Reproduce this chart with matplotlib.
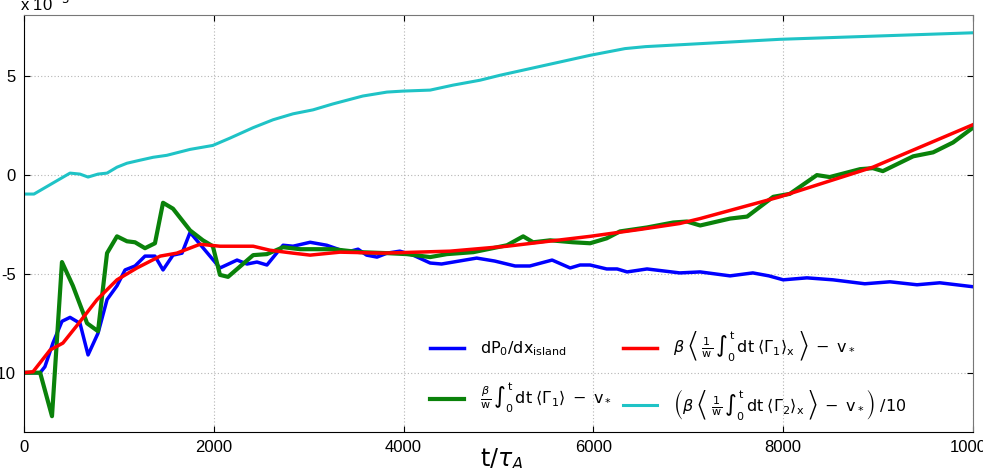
import numpy as np
import matplotlib
matplotlib.use("Agg")
import matplotlib.pyplot as plt

# === Dados (unidades de 1e-3) ===

# dP0/dx island (azul)
blue_t = [0, 170, 220, 305, 400, 485, 590, 675, 780, 875, 980, 1065, 1170, 1275, 1380,
          1465, 1570, 1665, 1750, 1855, 1960, 2065, 2245, 2350, 2455, 2560, 2730, 2835,
          3015, 3190, 3400, 3520, 3610, 3720, 3825, 3960, 4100, 4280, 4400, 4770, 4960,
          5175, 5330, 5565, 5755, 5860, 5965, 6140, 6250, 6355, 6565, 6910, 7125, 7440,
          7680, 7850, 8000, 8250, 8525, 8860, 9125, 9410, 9650, 10000]
blue_y = [-10, -10, -9.7, -8.5, -7.4, -7.2, -7.5, -9.1, -8.0, -6.3, -5.6, -4.8, -4.6, -4.1,
          -4.1, -4.8, -4.05, -3.95, -2.9, -3.5, -4.1, -4.7, -4.3, -4.5, -4.4, -4.55, -3.55,
          -3.6, -3.4, -3.55, -3.9, -3.75, -4.05, -4.15, -3.95, -3.85, -4.05, -4.45, -4.5,
          -4.2, -4.35, -4.6, -4.6, -4.3, -4.7, -4.55, -4.55, -4.75, -4.75, -4.9, -4.75,
          -4.95, -4.9, -5.1, -4.95, -5.1, -5.3, -5.2, -5.3, -5.5, -5.4, -5.55, -5.45, -5.65]

# beta/w int dt <Gamma1> - v* (verde)
green_t = [0, 170, 295, 400, 515, 665, 780, 875, 980, 1085, 1170, 1275, 1380, 1465, 1570,
           1750, 1885, 1990, 2065, 2150, 2415, 2560, 2730, 2910, 3255, 3540, 3825, 4035,
           4280, 4455, 4735, 5090, 5260, 5365, 5545, 5785, 5965, 6140, 6280, 6565, 6840,
           6985, 7125, 7440, 7620, 7895, 8070, 8355, 8490, 8810, 8945, 9050, 9370, 9580,
           9790, 10000]
green_y = [-10, -10, -12.2, -4.4, -5.6, -7.5, -7.9, -3.95, -3.1, -3.35, -3.4, -3.7, -3.45,
           -1.4, -1.7, -2.8, -3.3, -3.6, -5.05, -5.15, -4.05, -4.0, -3.65, -3.75, -3.75,
           -3.9, -3.95, -4.0, -4.15, -4.0, -3.9, -3.55, -3.1, -3.4, -3.3, -3.4, -3.45,
           -3.2, -2.85, -2.65, -2.4, -2.35, -2.55, -2.2, -2.1, -1.1, -0.95, 0, -0.1, 0.3,
           0.35, 0.2, 0.95, 1.15, 1.65, 2.4]

# beta <1/w int dt <Gamma1>_x> - v* (vermelho)
red_t = [0, 95, 275, 410, 560, 770, 980, 1190, 1435, 1610, 1855, 2065, 2415, 2590, 2835,
         3015, 3330, 3785, 4490, 5090, 5965, 6490, 6910, 7125, 7965, 8945, 10000]
red_y = [-10, -9.95, -8.85, -8.5, -7.6, -6.3, -5.3, -4.7, -4.1, -3.95, -3.5, -3.6, -3.6,
         -3.8, -3.95, -4.05, -3.9, -3.95, -3.85, -3.6, -3.1, -2.75, -2.45, -2.2, -1.1,
         0.4, 2.55]

# (beta <1/w int dt <Gamma2>_x> - v*)/10 (ciano)
cyan_t = [0, 105, 485, 590, 675, 780, 875, 980, 1085, 1220, 1360, 1505, 1750, 1990, 2170,
          2415, 2625, 2835, 3045, 3255, 3570, 3825, 3995, 4280, 4520, 4805, 5015, 5965,
          6333, 6550, 7966, 10000]
cyan_y = [-0.96, -0.96, 0.1, 0.05, -0.1, 0.05, 0.1, 0.4, 0.6, 0.75, 0.9, 1.0, 1.3, 1.5,
          1.87, 2.4, 2.8, 3.1, 3.3, 3.6, 4.0, 4.2, 4.25, 4.3, 4.55, 4.8, 5.05, 6.06, 6.4,
          6.5, 6.87, 7.2]

x_ticks = [0, 2000, 4000, 6000, 8000, 10000]
y_ticks = [-10, -5, 0, 5]

label_blue = r"$\mathrm{dP_0/dx_{island}}$"
label_green = (r"$\frac{\beta}{\mathrm{w}}\,\int_0^\mathrm{t}\,\mathrm{dt}\;\langle\Gamma_1\rangle"
               r"\;-\;\mathrm{v}_*$")
label_red = (r"$\beta\;\left\langle\;\frac{1}{\mathrm{w}}\,\int_0^\mathrm{t}\,\mathrm{dt}\;"
             r"\langle\Gamma_1\rangle_\mathrm{x}\;\right\rangle\;-\;\mathrm{v}_*$")
label_cyan = (r"$\left(\beta\;\left\langle\;\frac{1}{\mathrm{w}}\,\int_0^\mathrm{t}\,\mathrm{dt}\;"
              r"\langle\Gamma_2\rangle_\mathrm{x}\;\right\rangle\;-\;\mathrm{v}_*\right)\;/10$")

# === Estilo ===
plt.rcParams["font.family"] = ["Liberation Sans", "DejaVu Sans"]
plt.rcParams["mathtext.fontset"] = "dejavusans"
plt.rcParams["axes.unicode_minus"] = False

fig = plt.figure(figsize=(9.83, 4.68), dpi=100)
ax = fig.add_axes([24 / 983, 36 / 468, 949 / 983, 417 / 468])

h_blue, = ax.plot(blue_t, blue_y, color="#0000ff", lw=2.5, solid_joinstyle="round")
h_green, = ax.plot(green_t, green_y, color="#0a820a", lw=3.0, solid_joinstyle="round")
h_red, = ax.plot(red_t, red_y, color="#ff0000", lw=2.5, solid_joinstyle="round")
h_cyan, = ax.plot(cyan_t, cyan_y, color="#1fc3c6", lw=2.2, solid_joinstyle="round")

ax.set_xlim(0, 10000)
ax.set_ylim(-13, 8.1)
ax.set_xticks(x_ticks)
ax.set_yticks(y_ticks)
ax.set_xticklabels([str(v) for v in x_ticks])
ax.set_yticklabels([str(v) for v in y_ticks])
ax.tick_params(direction="in", length=4, labelsize=12, top=True, right=True, pad=6)
ax.grid(True, linestyle=(0, (1, 2)), color="#b5b5b5", lw=0.8)

for side in ["left", "bottom"]:
    ax.spines[side].set_color("black")
for side in ["top", "right"]:
    ax.spines[side].set_color("#777777")

leg = ax.legend([h_blue, h_green, h_red, h_cyan],
                [label_blue, label_green, label_red, label_cyan],
                ncol=2, frameon=False, fontsize=11.5, loc="upper left",
                bbox_to_anchor=(0.428, 0.245), borderaxespad=0, borderpad=0,
                handlelength=2.1, columnspacing=0.7, labelspacing=1.4,
                handletextpad=1.0)

# fator de escala e rótulo do eixo x (cortados na borda como no original)
fig.text(20 / 983, 1 - 14 / 468, r"x 10$^{-3}$", fontsize=12, ha="left", va="bottom")
fig.text(0.51, 1 - 447 / 468, r"$\mathrm{t}/\tau_A$", fontsize=17, ha="center", va="top")

fig.savefig("out.png", dpi=100)
